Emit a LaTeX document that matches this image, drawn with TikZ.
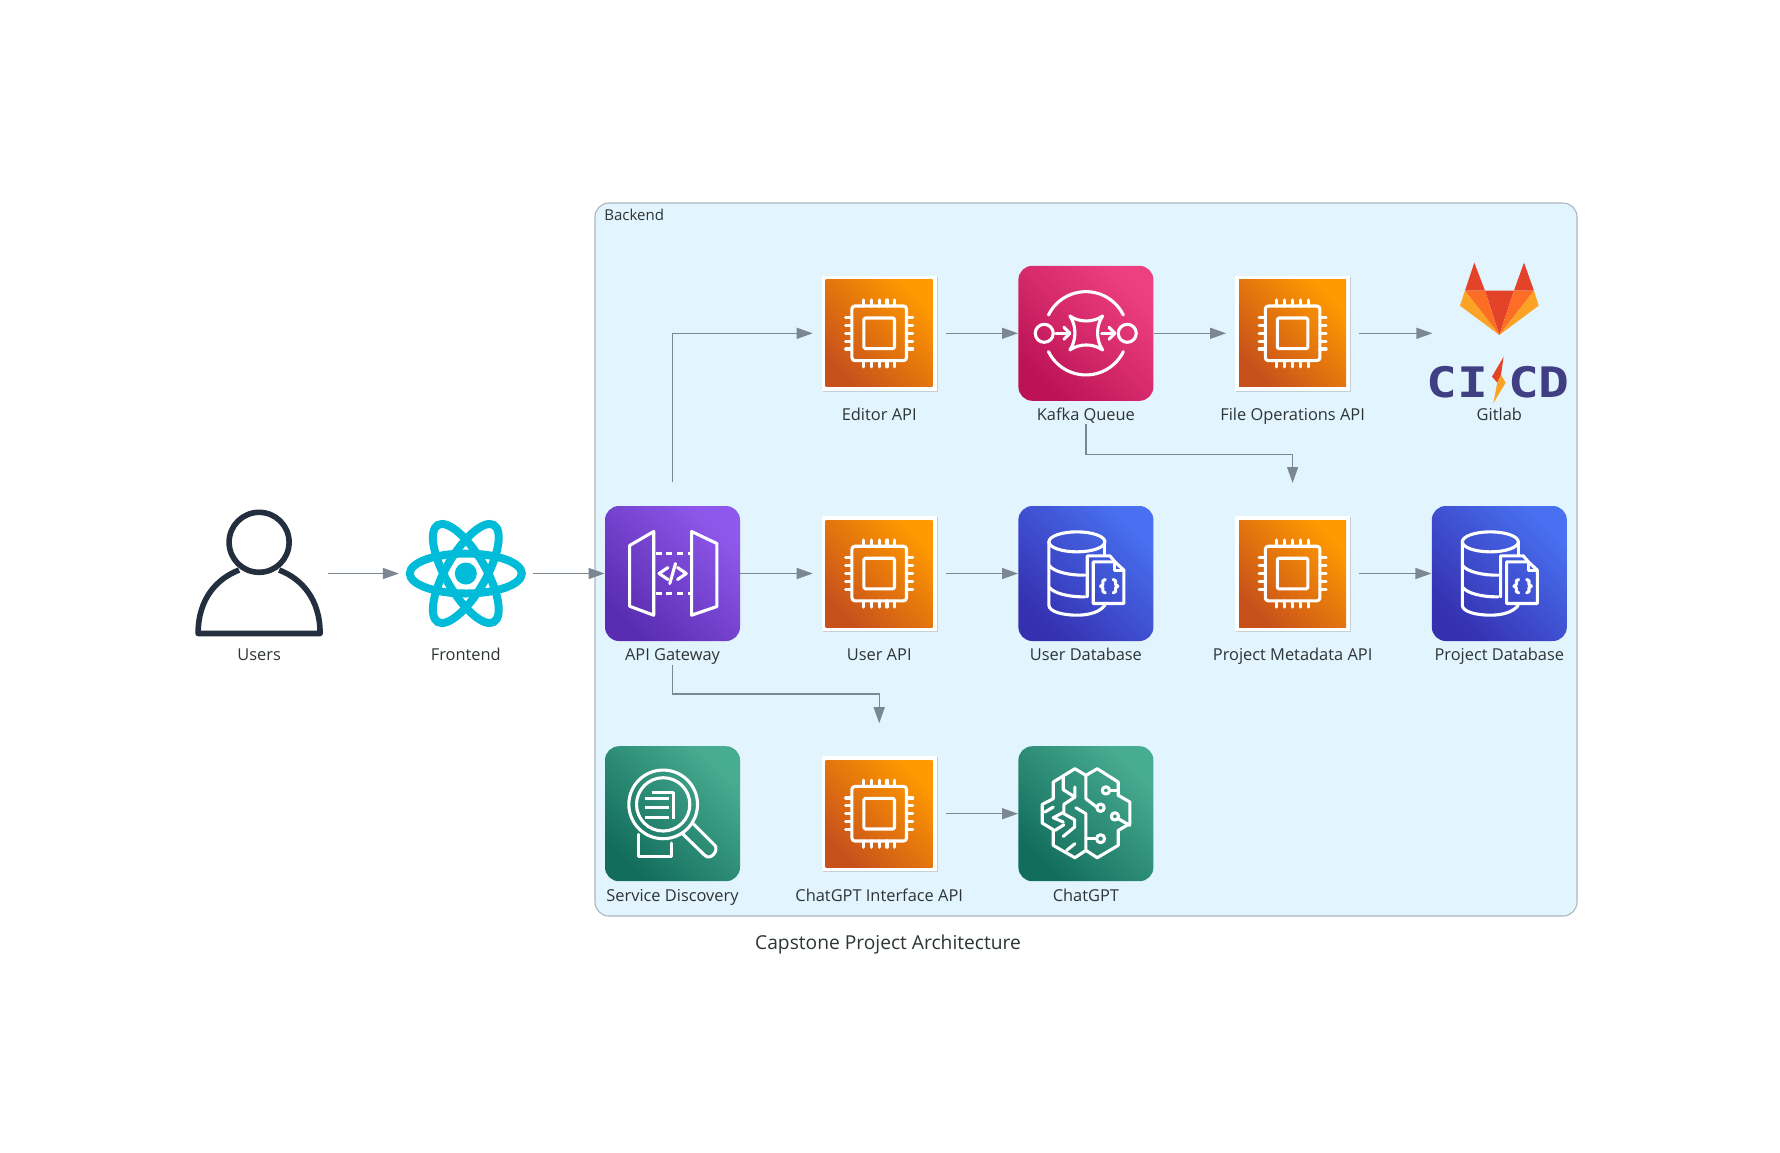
\documentclass[tikz,border=0pt]{standalone}
\usepackage{xcolor}
\usepackage{fontspec}
\setmainfont{Open Sans}
\newfontfamily\logofont{DejaVu Sans Mono}
\usepackage{tikz}
\usetikzlibrary{positioning, arrows.meta, shadows}

\definecolor{labelink}{HTML}{2D3436}
\definecolor{clusterfill}{HTML}{E2F4FD}
\definecolor{clusterline}{HTML}{AEB6BE}
\definecolor{wirecolor}{HTML}{7B8894}
\definecolor{usersink}{HTML}{232F3E}
\definecolor{reactcyan}{HTML}{00BCD9}
\definecolor{foxred}{HTML}{E24329}
\definecolor{foxorange}{HTML}{FC6D26}
\definecolor{foxyellow}{HTML}{FCA326}
\definecolor{cicdink}{HTML}{403F83}
\definecolor{queuedark}{HTML}{BC1356}
\definecolor{queuelight}{HTML}{EE4080}
\definecolor{gatewaydark}{HTML}{5A2DB0}
\definecolor{gatewaylight}{HTML}{8F58EC}
\definecolor{datadark}{HTML}{3530B0}
\definecolor{datalight}{HTML}{4870F0}
\definecolor{mldark}{HTML}{126D5B}
\definecolor{mllight}{HTML}{48AC92}
\definecolor{computedark}{HTML}{C8511B}
\definecolor{computelight}{HTML}{FF9900}

\begin{document}
\begin{tikzpicture}[
		x=0.5pt, y=-0.5pt,
		node distance=120.1pt and 103.35pt, on grid,
		backendbox/.style={rectangle, draw=clusterline, fill=clusterfill, line width=0.55pt, rounded corners=7pt, minimum width=491pt, minimum height=356.5pt, inner sep=0pt},
		iconlabel/.style={font=\fontsize{8.2}{9}\selectfont, text=labelink, text height=6pt, text depth=1.7pt, inner sep=0pt},
		iconslot/.style={rectangle, minimum size=66.5pt, inner sep=0pt},
		computebox/.style={rectangle, fill=white, minimum size=57.5pt, outer sep=4.5pt, inner sep=0pt, drop shadow={shadow xshift=0.5pt, shadow yshift=-0.6pt, opacity=0.3}},
		awsbox/.style={rectangle, rounded corners=7pt, minimum size=67.5pt, inner sep=0pt},
		queuebox/.style={awsbox, bottom color=queuedark, top color=queuelight, shading angle=-45},
		gatewaybox/.style={awsbox, bottom color=gatewaydark, top color=gatewaylight, shading angle=-45},
		databox/.style={awsbox, bottom color=datadark, top color=datalight, shading angle=-45},
		mlbox/.style={awsbox, bottom color=mldark, top color=mllight, shading angle=-45},
		glyph/.style={draw=white, line width=1.55pt, line join=round, line cap=round},
		flowarrow/.style={-{Triangle[length=8pt, width=5.5pt]}, line width=0.65pt, draw=wirecolor, color=wirecolor},
		pics/usersicon/.style={code={
			\draw[usersink, line width=2.8pt] (0,-31.2) circle[radius=30];
			\draw[usersink, line width=2.8pt, line join=round] (-20,-3.5) .. controls (-42,5) and (-61,25) .. (-61,60) -- (61,60) .. controls (61,25) and (42,5) .. (20,-3.5);
		}},
		pics/reacticon/.style={code={
			\foreach \tilt in {0,60,120}
				\draw[reactcyan, line width=4pt, rotate=\tilt] (0,0) ellipse[x radius=56, y radius=20];
			\fill[reactcyan] (0,0) circle[radius=11];
		}},
		pics/computechip/.style={code={
			\path[bottom color=computedark, top color=computelight, shading angle=-45] (-53.5,-53.5) rectangle (53.5,53.5);
			\draw[glyph, rounded corners=1.5pt] (-27.3,-27.3) rectangle (27.3,27.3);
			\draw[glyph, rounded corners=0.7pt] (-15.3,-15.3) rectangle (15.3,15.3);
			\foreach \pin in {-15.7,-7.8,0,7.8,15.7} {
				\draw[glyph] (\pin,-33.5) -- (\pin,-27.3);
				\draw[glyph] (\pin,27.3) -- (\pin,33.5);
				\draw[glyph] (-33.5,\pin) -- (-27.3,\pin);
				\draw[glyph] (27.3,\pin) -- (33.5,\pin);
			}
		}},
		pics/gatewayicon/.style={code={
			\draw[glyph] (-42.9,-28) -- (-18.8,-42) -- (-18.8,41.7) -- (-42.9,32.7) -- cycle;
			\draw[glyph] (19.1,-42) -- (44.4,-30) -- (44.4,33) -- (19.1,41.7) -- cycle;
			\draw[glyph, line cap=butt, dash pattern=on 3pt off 2.4pt] (-17,-20) -- (18,-20);
			\draw[glyph, line cap=butt, dash pattern=on 3pt off 2.4pt] (-17,20) -- (18,20);
			\draw[glyph] (-4.6,-6) -- (-13.4,0) -- (-4.6,6);
			\draw[glyph] (5,-6) -- (13.8,0) -- (5,6);
			\draw[glyph] (-2.7,10) -- (3,-10);
		}},
		pics/queueicon/.style={code={
			\begin{scope}[scale=0.3333, shift={(-858,-250)}]
				\draw[glyph] (858,250) ++(26:125) arc[start angle=26, end angle=154, radius=125];
				\draw[glyph] (858,250) ++(-26:125) arc[start angle=-26, end angle=-154, radius=125];
				\draw[glyph] (733,250) circle[radius=27];
				\draw[glyph] (982,250) circle[radius=27];
				\draw[glyph] (768,250) -- (808,250);
				\draw[glyph] (792,232) -- (810,250) -- (792,268);
				\draw[glyph] (905,250) -- (943,250);
				\draw[glyph] (927,232) -- (945,250) -- (927,268);
				\draw[glyph] (810,198) .. controls (838,218) and (880,218) .. (908,198) .. controls (888,228) and (888,270) .. (908,300) .. controls (880,280) and (838,280) .. (810,300) .. controls (830,270) and (830,228) .. (810,198) -- cycle;
			\end{scope}
		}},
		pics/dataicon/.style={code={
			\begin{scope}[scale=0.3333, shift={(-258,-250)}]
				\draw[glyph] (231,155) ellipse[x radius=84, y radius=30];
				\draw[glyph] (147,155) -- (147,345) .. controls (147,365) and (190,375) .. (231,375) .. controls (270,375) and (300,365) .. (315,345);
				\draw[glyph] (315,155) -- (315,195);
				\draw[glyph] (147,225) .. controls (160,245) and (210,256) .. (255,255);
				\draw[glyph] (147,290) .. controls (160,310) and (210,321) .. (255,320);
				\draw[glyph] (262,320) -- (262,197) -- (330,197) -- (345,215);
				\draw[glyph] (280,215) -- (345,215) -- (372,240) -- (372,340) -- (280,340) -- cycle;
				\draw[glyph] (345,215) -- (345,240) -- (372,240);
				\draw[glyph] (316,268) -- (309,272) -- (309,283) -- (302,288) -- (309,293) -- (309,304) -- (316,308);
				\draw[glyph] (340,268) -- (347,272) -- (347,283) -- (354,288) -- (347,293) -- (347,304) -- (340,308);
			\end{scope}
		}},
		pics/discoveryicon/.style={code={
			\begin{scope}[scale=0.3333, shift={(-248,-250)}]
				\draw[glyph] (220,222) circle[radius=103];
				\draw[glyph] (220,222) circle[radius=80];
				\draw[glyph, line cap=butt] (165,205) -- (238,205);
				\draw[glyph, line cap=butt] (165,232) -- (238,232);
				\draw[glyph, line cap=butt] (165,262) -- (238,262);
				\draw[glyph, line cap=butt] (185,187) -- (252,187) -- (252,265);
				\draw[glyph] (145,312) -- (145,378) -- (245,378) -- (245,338);
				\draw[glyph] (310,280) -- (375,345) .. controls (388,360) and (362,392) .. (345,375) -- (278,310);
			\end{scope}
		}},
		pics/brainicon/.style={code={
			\begin{scope}[scale=0.3333, shift={(-258,-250)}]
				\draw[glyph] (258,135) -- (225,115) -- (160,155) -- (160,205) -- (127,222) -- (127,278) -- (160,298) -- (160,345) -- (225,382) -- (258,360) -- (292,382) -- (355,345) -- (355,300) -- (390,280) -- (390,215) -- (355,195) -- (355,155) -- (292,115) -- cycle;
				\draw[glyph] (258,135) -- (258,205) -- (290,230);
				\draw[glyph] (228,232) -- (258,250) -- (258,360);
				\draw[glyph] (258,325) -- (290,325);
				\draw[glyph] (302,232) circle[radius=11];
				\draw[glyph] (302,325) circle[radius=12];
				\draw[glyph] (318,180) circle[radius=11];
				\draw[glyph] (329,180) -- (355,180);
				\draw[glyph] (345,258) circle[radius=11];
				\draw[glyph] (355,265) -- (390,285);
				\draw[glyph] (190,138) -- (190,178) -- (225,200) -- (225,170);
				\draw[glyph] (225,200) -- (192,222) -- (192,245) -- (160,262) -- (190,275);
				\draw[glyph] (192,250) -- (224,268) -- (224,290) -- (190,318);
				\draw[glyph] (135,245) -- (160,230);
				\draw[glyph] (165,300) -- (192,283);
				\draw[glyph] (200,360) -- (225,340);
			\end{scope}
		}},
		pics/gitlabicon/.style={code={
			\begin{scope}[scale=0.3333, shift={(-298,-280)}]
				\fill[foxred] (223,68) -- (195,152) -- (255,152) -- cycle;
				\fill[foxred] (372,68) -- (342,152) -- (402,152) -- cycle;
				\fill[foxred] (255,152) -- (342,152) -- (298,285) -- cycle;
				\fill[foxorange] (195,152) -- (255,152) -- (298,285) -- cycle;
				\fill[foxorange] (402,152) -- (342,152) -- (298,285) -- cycle;
				\fill[foxyellow] (195,152) -- (180,197) -- (298,285) -- cycle;
				\fill[foxyellow] (402,152) -- (416,197) -- (298,285) -- cycle;
				\node[font=\logofont\bfseries\fontsize{21}{21}\selectfont, text=cicdink, inner sep=0pt] (citext) at (173,428) {\scalebox{1.22}[1]{CI}};
				\node[font=\logofont\bfseries\fontsize{21}{21}\selectfont, text=cicdink, inner sep=0pt] (cdtext) at (417,428) {\scalebox{1.22}[1]{CD}};
				\fill[foxred] (311,350) -- (276,410) -- (292,428) -- (303,405) -- cycle;
				\fill[foxyellow] (292,428) -- (280,490) -- (317,428) -- (303,405) -- cycle;
			\end{scope}
		}}
	]

	\useasboundingbox (0,0) rectangle (1780,1152);

	\node[backendbox] (backend) at (1086,559.5) {};
	\node[font=\fontsize{7.5}{9}\selectfont, text=labelink, inner sep=0pt, anchor=west] (backendlabel) at (604,215) {Backend};

	% middle row
	\node[iconslot, minimum size=68pt] (users) at (259.1,573.5) {};
	\node[iconslot, right=of users] (frontend) {};
	\node[gatewaybox, right=of frontend] (gateway) {};
	\node[computebox, right=of gateway] (userapi) {};
	\node[databox, right=of userapi] (userdb) {};
	\node[computebox, right=of userdb] (metaapi) {};
	\node[databox, right=of metaapi] (projectdb) {};

	% top row
	\node[computebox, above=of userapi] (editorapi) {};
	\node[queuebox, right=of editorapi] (kafka) {};
	\node[computebox, right=of kafka] (fileapi) {};
	\node[iconslot, right=of fileapi] (gitlab) {};

	% bottom row
	\node[mlbox, below=of gateway] (discovery) {};
	\node[computebox, below=of userapi] (chatapi) {};
	\node[mlbox, right=of chatapi] (chatgpt) {};

	% icons
	\pic at (users) {usersicon};
	\pic at (frontend) {reacticon};
	\pic at (gateway) {gatewayicon};
	\foreach \apinode in {userapi, metaapi, editorapi, fileapi, chatapi}
		\pic at (\apinode) {computechip};
	\foreach \dbnode in {userdb, projectdb}
		\pic at (\dbnode) {dataicon};
	\pic at (kafka) {queueicon};
	\pic at (gitlab) {gitlabicon};
	\pic at (discovery) {discoveryicon};
	\pic at (chatgpt) {brainicon};

	% labels
	\node[iconlabel, below=41.5pt of users] (userslabel) {Users};
	\node[iconlabel, below=41.5pt of frontend] (frontendlabel) {Frontend};
	\node[iconlabel, below=41.5pt of gateway] (gatewaylabel) {API Gateway};
	\node[iconlabel, below=41.5pt of userapi] (userapilabel) {User API};
	\node[iconlabel, below=41.5pt of userdb] (userdblabel) {User Database};
	\node[iconlabel, below=41.5pt of metaapi] (metaapilabel) {Project Metadata API};
	\node[iconlabel, below=41.5pt of projectdb] (projectdblabel) {Project Database};
	\node[iconlabel, below=41.5pt of editorapi] (editorapilabel) {Editor API};
	\node[iconlabel, below=41.5pt of kafka] (kafkalabel) {Kafka Queue};
	\node[iconlabel, below=41.5pt of fileapi] (fileapilabel) {File Operations API};
	\node[iconlabel, below=41.5pt of gitlab] (gitlablabel) {Gitlab};
	\node[iconlabel, below=41.5pt of discovery] (discoverylabel) {Service Discovery};
	\node[iconlabel, below=41.5pt of chatapi] (chatapilabel) {ChatGPT Interface API};
	\node[iconlabel, below=41.5pt of chatgpt] (chatgptlabel) {ChatGPT};
	\node[font=\fontsize{9.6}{11}\selectfont, text=labelink, inner sep=0pt] (title) at (888,944) {Capstone Project Architecture};

	% free ends
	\coordinate[above=45.75pt of gateway] (gatewaytop);
	\coordinate[above=45.25pt of metaapi] (metaapitop);
	\coordinate[above=45.25pt of chatapi] (chatapitop);

	\draw[flowarrow] (users) -- (frontend);
	\draw[flowarrow] (frontend) -- (gateway);
	\draw[flowarrow] (gateway) -- (userapi);
	\draw[flowarrow] (userapi) -- (userdb);
	\draw[flowarrow] (metaapi) -- (projectdb);
	\draw[flowarrow] (editorapi) -- (kafka);
	\draw[flowarrow] (kafka) -- (fileapi);
	\draw[flowarrow] (fileapi) -- (gitlab);
	\draw[flowarrow] (chatapi) -- (chatgpt);
	\draw[flowarrow] (gatewaytop) |- (editorapi);
	\draw[flowarrow] (gatewaylabel.south) -- ++(0,29.5) -| (chatapitop);
	\draw[flowarrow] (kafkalabel.south) -- ++(0,30) -| (metaapitop);

\end{tikzpicture}
\end{document}
